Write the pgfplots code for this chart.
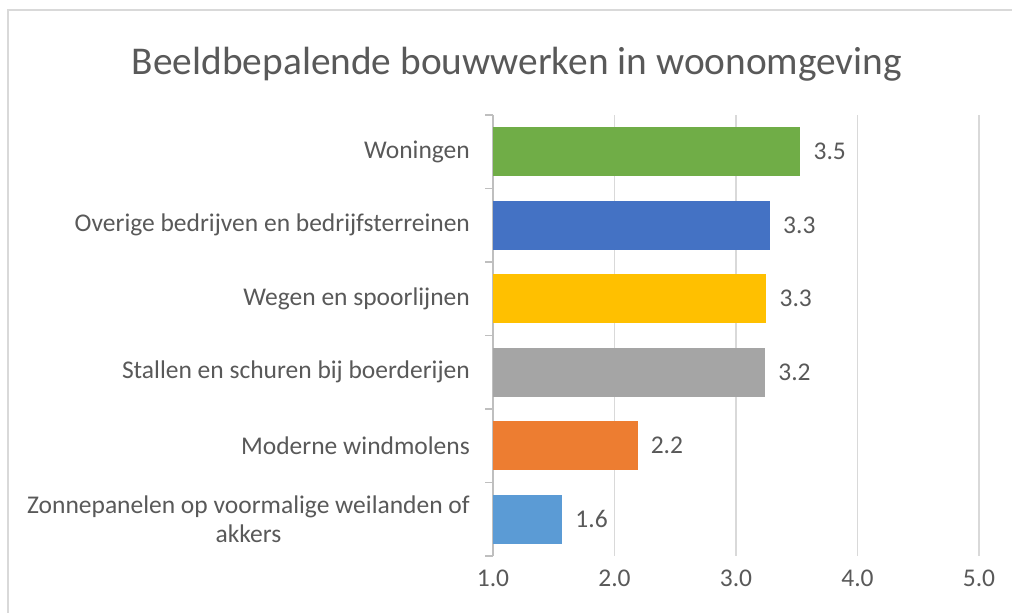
\documentclass[border=0pt]{standalone}
\usepackage{pgfplots}
\pgfplotsset{compat=1.18}
\usepackage{fontspec}
\setmainfont{Carlito}
\definecolor{txt}{HTML}{595959}
\definecolor{framec}{HTML}{D9D9D9}
\definecolor{gridc}{HTML}{D9D9D9}
\definecolor{axisc}{HTML}{BFBFBF}
\definecolor{cgreen}{HTML}{70AD47}
\definecolor{cblue}{HTML}{4472C4}
\definecolor{cyellow}{HTML}{FFC000}
\definecolor{cgrey}{HTML}{A5A5A5}
\definecolor{corange}{HTML}{ED7D31}
\definecolor{clblue}{HTML}{5B9BD5}
\begin{document}
\begin{tikzpicture}[x=1bp,y=1bp]
\useasboundingbox (0,0) rectangle (1012,613);
\fill[white] (0,0) rectangle (1012,613);
\draw[color=framec, line width=1.5bp] (8,-20) -- (8,603) -- (1040,603);
\node[txt, font=\fontsize{39.5}{46}\selectfont, anchor=base, inner sep=0pt] at (517,538) {Beeldbepalende bouwwerken in woonomgeving};
\begin{axis}[
  at={(493bp,57bp)}, anchor=south west,
  scale only axis, width=486bp, height=441bp,
  xmin=1, xmax=5, ymin=-0.5, ymax=5.5,
  xbar,
  axis lines*=left,
  x axis line style={draw=none},
  y axis line style={color=axisc, line width=1.2bp},
  xtick={1,2,3,4,5},
  xticklabels={1.0,2.0,3.0,4.0,5.0},
  xmajorgrids,
  major grid style={color=gridc, line width=1.2bp},
  ytick={0,1,2,3,4,5},
  yticklabels={{Zonnepanelen op voormalige weilanden of\\akkers},{Moderne windmolens},{Stallen en schuren bij boerderijen},{Wegen en spoorlijnen},{Overige bedrijven en bedrijfsterreinen},{Woningen}},
  minor ytick={-0.5,0.5,1.5,2.5,3.5,4.5,5.5},
  major tick length=0pt,
  minor tick length=8bp,
  tick align=outside,
  minor tick style={color=axisc, line width=1.2bp},
  xtick style={draw=none},
  tick label style={font=\fontsize{25.6}{29}\selectfont, color=txt},
  yticklabel style={align=center, inner sep=0pt, xshift=-23bp},
  xticklabel style={inner sep=0pt, yshift=-14bp},
  nodes near coords,
  point meta=explicit symbolic,
  every node near coord/.append style={font=\fontsize{25.6}{29}\selectfont, color=txt, anchor=west, inner sep=0pt, xshift=13bp},
  mybar/.style={fill=#1, draw=none, bar shift=0pt, bar width=0.667},
]
\addplot[mybar=cgreen] coordinates {(3.53,5) [3.5]};
\addplot[mybar=cblue] coordinates {(3.28,4) [3.3]};
\addplot[mybar=cyellow] coordinates {(3.25,3) [3.3]};
\addplot[mybar=cgrey] coordinates {(3.24,2) [3.2]};
\addplot[mybar=corange] coordinates {(2.19,1) [2.2]};
\addplot[mybar=clblue] coordinates {(1.57,0) [1.6]};
\end{axis}
\end{tikzpicture}
\end{document}
